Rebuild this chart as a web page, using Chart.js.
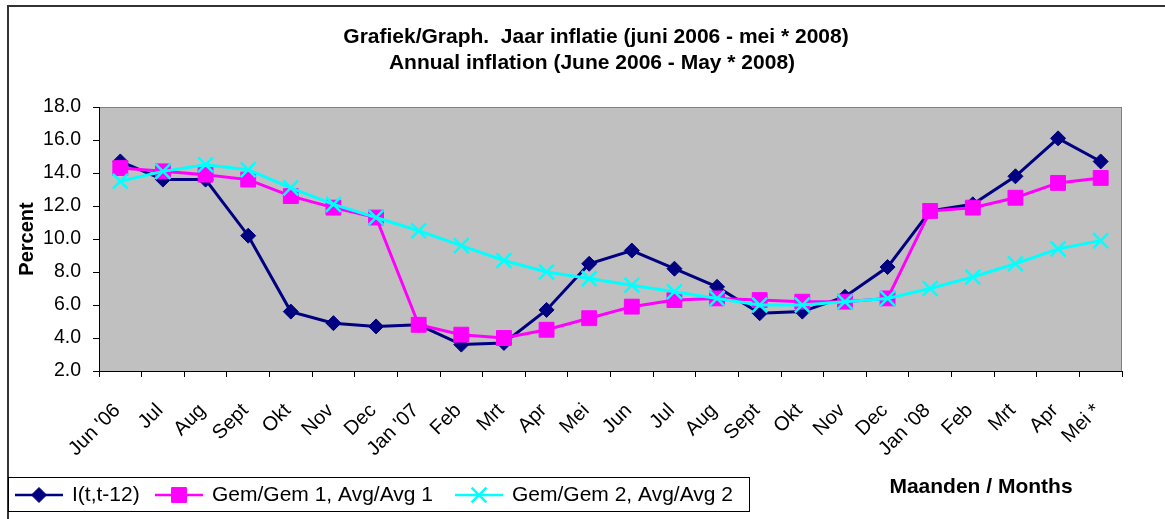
<!DOCTYPE html>
<html>
<head>
<meta charset="utf-8">
<script src="https://cdn.jsdelivr.net/npm/chart.js@4.4.0/dist/chart.umd.min.js"></script>
<style>
html,body{margin:0;padding:0;background:#fff;}
#wrap{width:1165px;height:519px;position:relative;overflow:hidden;}
canvas{display:block;}
</style>
</head>
<body>
<div id="wrap"><canvas id="c" width="1165" height="519"></canvas></div>
<script>
// ---- data ----
const categories = ["Jun '06","Jul","Aug","Sept","Okt","Nov","Dec","Jan '07","Feb","Mrt","Apr","Mei","Jun","Jul","Aug","Sept","Okt","Nov","Dec","Jan '08","Feb","Mrt","Apr","Mei *"];
const inflation = [14.7,13.6,13.6,10.2,5.6,4.9,4.7,4.8,3.6,3.7,5.7,8.5,9.3,8.2,7.1,5.5,5.6,6.5,8.3,11.7,12.1,13.8,16.1,14.7];
const avg1 = [14.3,14.1,13.9,13.6,12.6,11.9,11.3,4.8,4.2,4.0,4.5,5.2,5.9,6.3,6.4,6.3,6.2,6.2,6.4,11.7,11.9,12.5,13.4,13.7];
const avg2 = [13.5,14.1,14.5,14.2,13.1,12.1,11.3,10.5,9.6,8.7,8.0,7.6,7.2,6.8,6.4,6.0,6.0,6.2,6.4,7.0,7.7,8.5,9.4,9.9];
const yTickValues = [2,4,6,8,10,12,14,16,18];
const seriesNames = ["I(t,t-12)","Gem/Gem 1, Avg/Avg 1","Gem/Gem 2, Avg/Avg 2"];
const titleLines = ["Grafiek/Graph.  Jaar inflatie (juni 2006 - mei * 2008)","Annual inflation (June 2006 - May * 2008)"];
const yAxisTitle = "Percent";
const xAxisTitle = "Maanden / Months";

const FONT = "'Liberation Sans', Arial, sans-serif";

const decorPlugin = {
  id: 'decor',
  beforeDraw(chart) {
    const {ctx, chartArea: a} = chart;
    ctx.save();
    ctx.fillStyle = '#fff';
    ctx.fillRect(0, 0, chart.width, chart.height);
    // outer frame
    ctx.strokeStyle = '#333';
    ctx.lineWidth = 2;
    ctx.strokeRect(8, 6, chart.width + 20, chart.height + 20);
    // plot area
    ctx.fillStyle = '#C0C0C0';
    ctx.fillRect(a.left, a.top, a.right - a.left, a.bottom - a.top);
    ctx.strokeStyle = '#808080';
    ctx.lineWidth = 1;
    ctx.strokeRect(a.left + 0.5, a.top + 0.5, a.right - a.left - 1, a.bottom - a.top);
    ctx.restore();
  },
  afterDraw(chart) {
    const {ctx} = chart;
    ctx.save();
    ctx.fillStyle = '#000';
    ctx.textAlign = 'center';
    ctx.textBaseline = 'middle';
    ctx.font = "bold 21px " + FONT;
    ctx.fillText(titleLines[0], 596, 37);
    ctx.fillText(titleLines[1], 592, 63);
    ctx.font = "bold 21px " + FONT;
    ctx.fillText(xAxisTitle, 981, 487);
    // legend
    const lx = 8, ly = 477, lw = 741, lh = 34;
    ctx.fillStyle = '#fff';
    ctx.fillRect(lx, ly, lw, lh);
    ctx.strokeStyle = '#000';
    ctx.lineWidth = 1;
    ctx.strokeRect(lx + 0.5, ly + 0.5, lw, lh);
    const starts = [15, 155, 455];
    const cy = ly + lh / 2 + 1;
    chart.data.datasets.forEach((ds, i) => {
      const x0 = starts[i];
      ctx.strokeStyle = ds.borderColor;
      ctx.lineWidth = 2.5;
      ctx.beginPath();
      ctx.moveTo(x0, cy);
      ctx.lineTo(x0 + 48, cy);
      ctx.stroke();
      ctx.fillStyle = ds.pointBackgroundColor;
      ctx.strokeStyle = ds.pointBorderColor;
      ctx.lineWidth = ds.pointBorderWidth;
      Chart.helpers.drawPoint(ctx, {
        pointStyle: ds.pointStyle,
        radius: ds.pointRadius,
        borderWidth: ds.pointBorderWidth,
        rotation: 0
      }, x0 + 24, cy);
      ctx.fillStyle = '#000';
      ctx.textAlign = 'left';
      ctx.textBaseline = 'middle';
      ctx.font = "21px " + FONT;
      ctx.fillText(ds.label, x0 + 57, cy);
    });
    ctx.restore();
  }
};

const datasets = [
  {label: seriesNames[0], data: inflation, borderColor: '#000080', backgroundColor: '#000080',
   pointStyle: 'rectRot', pointRadius: 7.5, pointBackgroundColor: '#000080', pointBorderColor: '#000080', pointBorderWidth: 1, order: 3},
  {label: seriesNames[1], data: avg1, borderColor: '#FF00FF', backgroundColor: '#FF00FF',
   pointStyle: 'rect', pointRadius: 10.5, pointBackgroundColor: '#FF00FF', pointBorderColor: '#FF00FF', pointBorderWidth: 1, order: 2},
  {label: seriesNames[2], data: avg2, borderColor: '#00FFFF', backgroundColor: '#00FFFF',
   pointStyle: 'crossRot', pointRadius: 10.5, pointBackgroundColor: '#00FFFF', pointBorderColor: '#00FFFF', pointBorderWidth: 2.5, order: 1}
];
datasets.forEach(d => { d.borderWidth = 3; d.tension = 0; d.pointHoverRadius = d.pointRadius; });

new Chart(document.getElementById('c'), {
  type: 'line',
  data: {labels: categories, datasets},
  options: {
    responsive: false,
    animation: false,
    devicePixelRatio: 1,
    events: [],
    layout: {padding: {left: 0, top: 107, right: 43, bottom: 0}},
    plugins: {legend: {display: false}, tooltip: {enabled: false}, title: {display: false}},
    scales: {
      x: {
        type: 'category',
        offset: true,
        grid: {display: true, offset: true, drawOnChartArea: false, drawTicks: true, tickLength: 6, color: '#000', lineWidth: 1},
        border: {display: true, color: '#000', width: 1},
        ticks: {autoSkip: false, minRotation: 45, maxRotation: 45, padding: 22, labelOffset: -3, color: '#000', font: {family: FONT, size: 20}},
        afterFit: s => { s.height = 148; }
      },
      y: {
        min: 2, max: 18,
        afterBuildTicks: s => { s.ticks = yTickValues.map(v => ({value: v})); },
        grid: {display: true, drawOnChartArea: false, drawTicks: true, tickLength: 6, color: '#000', lineWidth: 1},
        border: {display: true, color: '#000', width: 1},
        ticks: {padding: 12, color: '#000', font: {family: FONT, size: 19.5}, callback: v => Number(v).toFixed(1)},
        title: {display: true, text: yAxisTitle, color: '#000', font: {family: FONT, size: 20, weight: 'bold'}, padding: {top: 15, bottom: 0}},
        afterFit: s => { s.width = 99; }
      }
    }
  },
  plugins: [decorPlugin]
});
</script>
</body>
</html>
